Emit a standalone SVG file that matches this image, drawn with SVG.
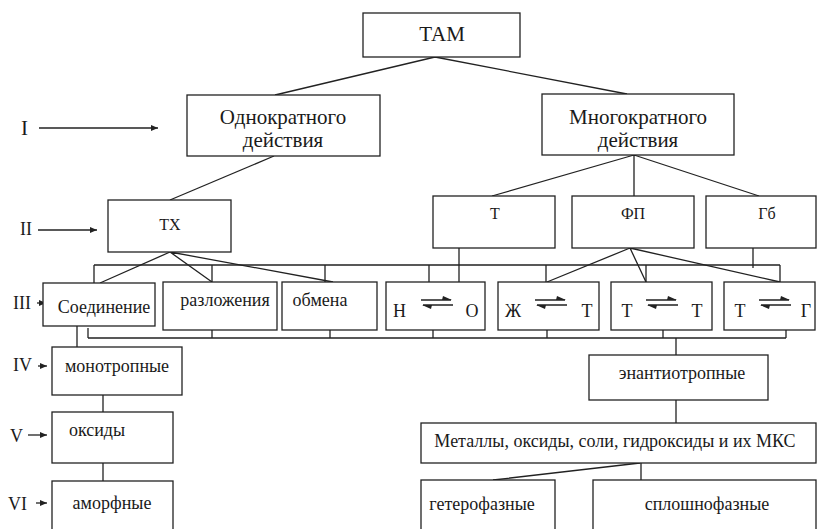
<svg xmlns="http://www.w3.org/2000/svg" width="818" height="529" viewBox="0 0 818 529">
<style>
rect{fill:#fff;stroke:#222;stroke-width:1.3}
text{font-family:"Liberation Serif","DejaVu Serif","Noto Serif",Tinos,serif;fill:#1a1a1a;font-size:18px}
.c{text-anchor:middle}
.big{font-size:21px}
.sm{font-size:16px}
.ln{stroke:#222;stroke-width:1.3;fill:none}
.eq{fill:#222;stroke:none}
</style>
<defs>
<marker id="ah" markerWidth="8" markerHeight="8" refX="7" refY="4" orient="auto" markerUnits="userSpaceOnUse">
<path d="M0,1 L7,4 L0,7 Z" fill="#222"/>
</marker>
<g id="eqsym">
<path class="ln" d="M0,0 H30 M2,5 H32"/>
<path class="eq" d="M22,-4 L31,0 L21,0 Z"/>
<path class="eq" d="M10,9 L1,5 L11,5 Z"/>
</g>
</defs>
<rect width="818" height="529" fill="#fff" style="stroke:none"/>

<g id="connectors">
<path class="ln" d="M435,57 L275,95 M435,57 L627,94"/>
<path class="ln" d="M274,156 L170,200"/>
<path class="ln" d="M634,155 L492,196 M634,155 V196 M634,155 L759,196"/>
<path class="ln" d="M170,252 L100,283 M170,252 L212,282 M170,252 L333,282"/>
<path class="ln" d="M630,248 L547,282 M630,248 L646,282 M630,248 L780,282"/>
<path class="ln" d="M94,265 H780 M94,265 V283 M212,265 V282 M325,265 V282 M429,265 V282 M546,265 V282 M646,265 V282 M780,265 V282"/>
<path class="ln" d="M459,248 V282 M753,248 V268"/>
<path class="ln" d="M88,338 H786 M88,328 V338 M212,330 V338 M330,330 V338 M433,330 V338 M547,330 V338 M663,330 V338 M786,330 V338"/>
<path class="ln" d="M676,338 V355 M676,400 V423"/>
<path class="ln" d="M77,326 V347 M103,395 V412 M103,463 V481"/>
<path class="ln" d="M640,463 L493,480 M641,463 V480"/>
<path class="ln" d="M39,128 H158" marker-end="url(#ah)"/>
<path class="ln" d="M38,230 H97" marker-end="url(#ah)"/>
<path class="ln" d="M37,303 H46" marker-end="url(#ah)"/>
<path class="ln" d="M38,366 H47" marker-end="url(#ah)"/>
<path class="ln" d="M28,435 H47" marker-end="url(#ah)"/>
<path class="ln" d="M36,503 H47" marker-end="url(#ah)"/>
</g>

<g id="labels">
<text class="big" x="21" y="135">I</text>
<text x="20" y="235">II</text>
<text x="13" y="309">III</text>
<text x="13" y="371">IV</text>
<text x="10" y="442">V</text>
<text x="8" y="510">VI</text>
</g>

<g id="n-tam"><rect x="363" y="13" width="157" height="44"/><text class="c big" x="442" y="41">ТАМ</text></g>
<g id="n-odno"><rect x="187" y="95" width="193" height="61"/><text class="c big" x="283" y="124">Однократного</text><text class="c big" x="283" y="147">действия</text></g>
<g id="n-mnogo"><rect x="542" y="94" width="192" height="61"/><text class="c big" x="638" y="124">Многократного</text><text class="c big" x="638" y="147">действия</text></g>
<g id="n-tx"><rect x="108" y="200" width="123" height="52"/><text class="c sm" x="170" y="230">ТХ</text></g>
<g id="n-t"><rect x="433" y="196" width="122" height="52"/><text class="c sm" x="495" y="219">Т</text></g>
<g id="n-fp"><rect x="572" y="196" width="122" height="52"/><text class="c sm" x="633" y="219">ФП</text></g>
<g id="n-gb"><rect x="706" y="196" width="110" height="52"/><text class="c sm" x="767" y="219">Гб</text></g>
<g id="n-soed"><rect x="43" y="283" width="112" height="43"/><text class="c" x="104" y="313">Соединение</text></g>
<g id="n-razl"><rect x="163" y="282" width="114" height="48"/><text class="c" x="225" y="306">разложения</text></g>
<g id="n-obm"><rect x="282" y="282" width="95" height="48"/><text class="c" x="320" y="306">обмена</text></g>
<g id="n-no"><rect x="386" y="282" width="99" height="48"/><text x="393" y="317">Н</text><use href="#eqsym" x="421" y="300"/><text class="c" x="472" y="317">О</text></g>
<g id="n-zht"><rect x="498" y="282" width="101" height="48"/><text class="c" x="513" y="317">Ж</text><use href="#eqsym" x="535" y="300"/><text class="c" x="587" y="317">Т</text></g>
<g id="n-tt"><rect x="611" y="282" width="101" height="48"/><text class="c" x="627" y="317">Т</text><use href="#eqsym" x="646" y="300"/><text class="c" x="697" y="317">Т</text></g>
<g id="n-tg"><rect x="724" y="282" width="91" height="48"/><text class="c" x="740" y="317">Т</text><use href="#eqsym" x="759" y="300"/><text class="c" x="806" y="317">Г</text></g>
<g id="n-mono"><rect x="52" y="347" width="130" height="48"/><text class="c" x="117" y="372">монотропные</text></g>
<g id="n-oks"><rect x="52" y="412" width="121" height="51"/><text class="c" x="97" y="436">оксиды</text></g>
<g id="n-amorf"><rect x="52" y="481" width="121" height="55"/><text class="c" x="112" y="509">аморфные</text></g>
<g id="n-enan"><rect x="589" y="355" width="179" height="45"/><text class="c" x="682" y="379">энантиотропные</text></g>
<g id="n-met"><rect x="421" y="423" width="395" height="40"/><text class="c" x="615" y="447">Металлы, оксиды, соли, гидроксиды и их МКС</text></g>
<g id="n-getero"><rect x="421" y="480" width="134" height="56"/><text class="c" x="482" y="510">гетерофазные</text></g>
<g id="n-splosh"><rect x="593" y="480" width="223" height="56"/><text class="c" x="707" y="510">сплошнофазные</text></g>
</svg>
